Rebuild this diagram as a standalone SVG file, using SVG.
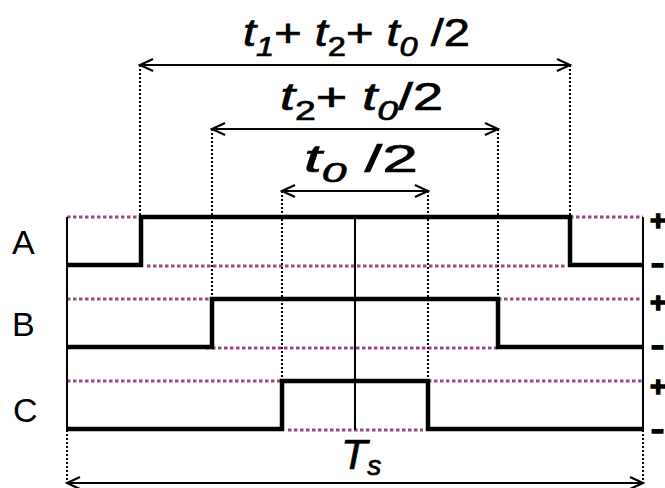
<svg xmlns="http://www.w3.org/2000/svg" width="665" height="488" viewBox="0 0 665 488">
<style>
.lbl{font-family:"Liberation Sans",Arial,sans-serif;fill:#000}
.big{stroke:#000;stroke-width:0.7}
.it{font-style:italic}
.wave{fill:none;stroke:#000;stroke-width:4.5;stroke-linejoin:miter}
.thin{stroke:#000;stroke-width:2;fill:none}
.pink{stroke:#9b4a80;stroke-width:3;stroke-dasharray:3.5 2.5;fill:none}
.dot{stroke:#000;stroke-width:2;stroke-dasharray:2 2;fill:none}
.arr{stroke:#000;stroke-width:2;fill:none;marker-start:url(#ah);marker-end:url(#ah)}
.pm{font-family:"Liberation Sans",Arial,sans-serif;font-weight:bold;font-size:28px;stroke:#000;stroke-width:1.4}
</style>
<defs>
<marker id="ah" viewBox="-15 -8 17 16" markerWidth="17" markerHeight="16" refX="0" refY="0" orient="auto-start-reverse" markerUnits="userSpaceOnUse">
<path d="M-13,-6 L0,0 L-13,6" fill="none" stroke="#000" stroke-width="2.2"/>
</marker>
</defs>
<rect width="665" height="488" fill="#fff"/>

<g id="grid">
<path class="pink" d="M67,217H140M570,217H643M147,266H565M67,299H212M498,299H643M206,348H500M67,381H282M428,381H643M288,430H423"/>
<path class="thin" d="M67,217V430M643,217V430M355,217V430"/>
</g>

<g id="connectors">
<path class="dot" d="M140,65V217M570,65V217M212,129V299M498,129V299M282,191V381M428,191V381M67,430V483M643,430V483"/>
<line class="arr" x1="140" y1="65" x2="570" y2="65"/>
<line class="arr" x1="212" y1="129" x2="498" y2="129"/>
<line class="arr" x1="282" y1="191" x2="428" y2="191"/>
<line class="arr" x1="67" y1="483" x2="643" y2="483"/>
</g>

<g id="waveA">
<path class="wave" d="M67,265H141V217H570V265H643"/>
<text class="lbl" x="12" y="254" font-size="34">A</text>
</g>
<g id="waveB">
<path class="wave" d="M67,347H212V299H498V347H643"/>
<text class="lbl" x="12" y="336" font-size="34">B</text>
</g>
<g id="waveC">
<path class="wave" d="M67,429H282V381H428V429H643"/>
<text class="lbl" x="13" y="422" font-size="34">C</text>
</g>

<g id="signs">
<text class="pm" x="650" y="230">+</text>
<text class="pm" x="650" y="312">+</text>
<text class="pm" x="650" y="396">+</text>
<text class="pm" transform="translate(651,273) scale(1.4,1)">-</text>
<text class="pm" transform="translate(651,355) scale(1.4,1)">-</text>
<text class="pm" transform="translate(651,439) scale(1.4,1)">-</text>
</g>

<g id="label1">
<text class="lbl big" x="243" y="46" font-size="39" textLength="227" lengthAdjust="spacingAndGlyphs"><tspan class="it">t</tspan><tspan class="it" font-size="27" dy="10">1</tspan><tspan dy="-10">+ </tspan><tspan class="it">t</tspan><tspan font-size="27" dy="10">2</tspan><tspan dy="-10">+ </tspan><tspan class="it">t</tspan><tspan class="it" font-size="27" dy="10">0</tspan><tspan dy="-10"> /2</tspan></text>
</g>
<g id="label2">
<text class="lbl big" x="280" y="110" font-size="39" textLength="163" lengthAdjust="spacingAndGlyphs"><tspan class="it">t</tspan><tspan font-size="27" dy="10">2</tspan><tspan dy="-10">+ </tspan><tspan class="it">t</tspan><tspan class="it" font-size="27" dy="10">0</tspan><tspan dy="-10">/2</tspan></text>
</g>
<g id="label3">
<text class="lbl big" x="304" y="172" font-size="39" textLength="114" lengthAdjust="spacingAndGlyphs"><tspan class="it">t</tspan><tspan class="it" font-size="27" dy="10">0</tspan><tspan dy="-10"> /2</tspan></text>
</g>
<g id="labelTs">
<text class="lbl big it" x="341" y="469" font-size="43">T<tspan font-size="28" dy="6">s</tspan></text>
</g>
</svg>
